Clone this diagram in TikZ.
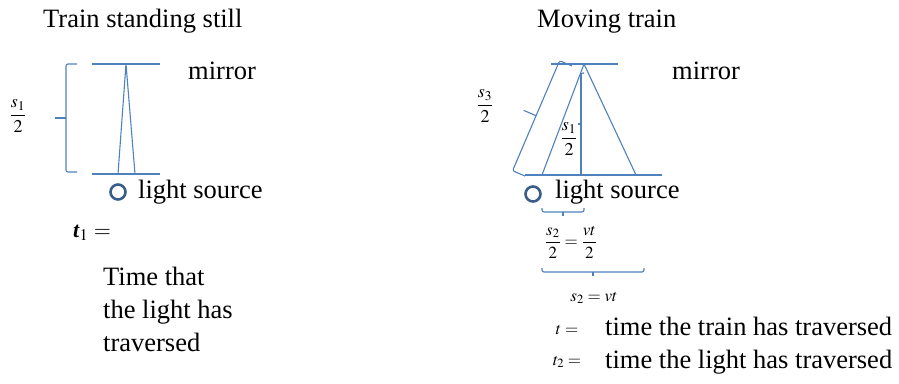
\documentclass[tikz,border=0pt]{standalone}
\usepackage{mathptmx}
\usepackage{fontspec}
\setmainfont{Liberation Serif}
\usepackage{xcolor}
\usepackage{tikz}
\usetikzlibrary{positioning, calc}
\definecolor{raycol}{HTML}{4F81BD}
\definecolor{srccol}{HTML}{385D8A}

\tikzset{
  ray/.style={draw=raycol, line width=1.1pt},
  bigtext/.style={font=\fontsize{26.5}{33}\selectfont, inner sep=0pt},
  smallmath/.style={font=\fontsize{17}{20}\selectfont, inner sep=0pt},
  fracmath/.style={font=\fontsize{18}{20}\selectfont, inner sep=0pt},
  source/.style={circle, draw=srccol, line width=2.6pt, minimum size=15pt, inner sep=0pt}
}

% square brace from #1 to #2, bulging to the left, amplitude #3
\newcommand{\sqbrace}[3]{%
  \coordinate (bmid) at ($(#1)!0.5!(#2)$);
  \draw[ray, rounded corners=2pt] (#1) -- ($(#1)!#3/2!90:(#2)$)
    -- ($(#2)!#3/2!-90:(#1)$) -- (#2);
  \draw[ray] ($(bmid)!#3/2!90:(#2)$) -- ($(bmid)!#3!90:(#2)$);
}

\begin{document}
\begin{tikzpicture}[x=1pt, y=-1pt]
  \useasboundingbox (0,0) rectangle (899,383);

  % --- train standing still
  \node[bigtext, anchor=base west] (titleA) at (43,27) {Train standing still};
  \coordinate (topA) at (126,64);
  \draw[ray] (92,64) -- (160,64);
  \draw[ray] (92,174) -- (160,174);
  \draw[ray] (118,174) -- (topA) -- (135,174);
  \coordinate (braceAlo) at (77,172);
  \coordinate (braceAhi) at (77,64);
  \sqbrace{braceAlo}{braceAhi}{22pt}
  \node[fracmath] (halfA) at (18,116) {$\displaystyle\frac{s_1}{2}$};
  \node[bigtext, anchor=base west] (mirrorA) at (188,79) {mirror};
  \node[source] (srcA) at (118,192) {};
  \node[bigtext, anchor=base west] (lightA) at (138,198) {light source};
  \node[font=\fontsize{22}{24}\selectfont, inner sep=0pt] (tA) at (92,233)
    {\textbf{\textit{t}}$_1$ $=$};
  \node[bigtext, anchor=north west, align=left] (timeA) at (103,267)
    {Time that\\the light has\\traversed};

  % --- moving train
  \node[bigtext, anchor=base west] (titleB) at (537,27) {Moving train};
  \coordinate (topB) at (584,64);
  \draw[ray] (551,64) -- (618,64);
  \draw[ray] (525,175) -- (662,175);
  \draw[ray] (542,175) -- (topB) -- (636,175);
  \coordinate (vertlo) at (581,175);
  \coordinate (verthi) at (581,73);
  \draw[ray] (vertlo) -- (verthi);
  \coordinate (smalllo) at (584,175);
  \coordinate (smallhi) at (584,73);
  \sqbrace{smalllo}{smallhi}{6pt}
  \node[fracmath] (halfB) at (569,139) {$\displaystyle\frac{s_1}{2}$};
  \coordinate (slantlo) at (525,176);
  \coordinate (slanthi) at (572,66);
  \sqbrace{slantlo}{slanthi}{27pt}
  \node[fracmath] (halfC) at (485,106) {$\displaystyle\frac{s_3}{2}$};
  \node[bigtext, anchor=base west] (mirrorB) at (672,79) {mirror};
  \node[source] (srcB) at (533,194) {};
  \node[bigtext, anchor=base west] (lightB) at (555,198) {light source};

  \coordinate (shortR) at (584,208);
  \coordinate (shortL) at (542,208);
  \sqbrace{shortR}{shortL}{8pt}
  \node[smallmath] (halfD) at (571,242) {$\displaystyle\frac{s_2}{2}=\frac{vt}{2}$};
  \coordinate (longR) at (644,268);
  \coordinate (longL) at (542,268);
  \sqbrace{longR}{longL}{8pt}
  \node[smallmath] (distB) at (594,298) {$s_2=vt$};

  \node[smallmath] (tB) at (567,330) {$t=$};
  \node[bigtext, anchor=base west] (trainB) at (605,335) {time the train has traversed};
  \node[smallmath] (tC) at (567,362) {$t_2=$};
  \node[bigtext, anchor=base west] (lightC) at (605,368) {time the light has traversed};
\end{tikzpicture}
\end{document}
